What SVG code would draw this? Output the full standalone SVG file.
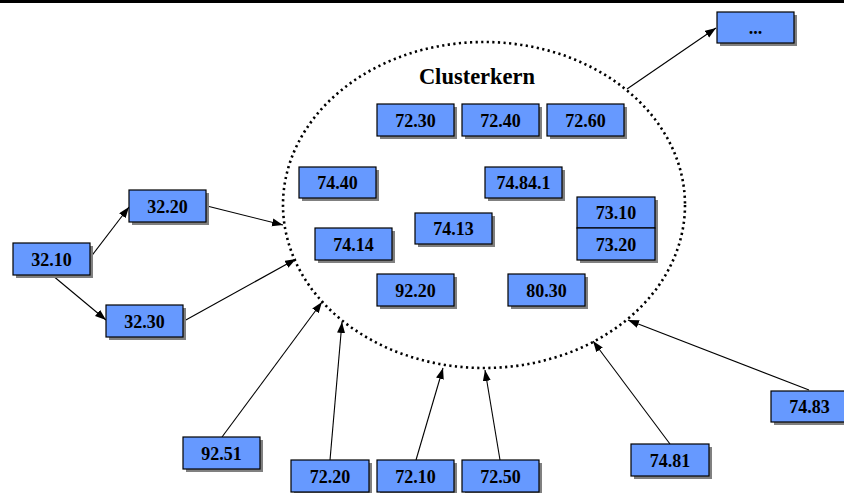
<svg xmlns="http://www.w3.org/2000/svg" width="844" height="493" viewBox="0 0 844 493">
<style>
.sh{fill:#808080}
.bx{fill:#6699ff;stroke:#000;stroke-width:1.2}
.t{font-family:"Liberation Serif","Times New Roman",serif;font-weight:bold;font-size:18px;fill:#000;text-anchor:middle}
.c{stroke:#000;stroke-width:1.1;fill:none;marker-end:url(#ah)}
</style>
<defs>
<marker id="ah" markerUnits="userSpaceOnUse" markerWidth="12" markerHeight="9" refX="11" refY="4" orient="auto">
<path d="M0,0 L11,4 L0,8 z" fill="#000"/>
</marker>
</defs>
<rect width="844" height="493" fill="#fff"/>
<rect x="0" y="0" width="844" height="3" fill="#000"/>
<ellipse id="cluster" cx="484" cy="205" rx="201" ry="163" fill="none" stroke="#000" stroke-width="2.6" stroke-dasharray="2.2 3.4"/>
<text x="477" y="84" class="t" style="font-size:22.5px">Clusterkern</text>

<g id="connectors">
<line class="c" x1="90" y1="258" x2="129" y2="207"/>
<line class="c" x1="52" y1="275" x2="106" y2="320"/>
<line class="c" x1="207" y1="206" x2="283" y2="225"/>
<line class="c" x1="184" y1="321" x2="296" y2="259"/>
<line class="c" x1="222" y1="437" x2="322" y2="302"/>
<line class="c" x1="330" y1="460" x2="342" y2="322"/>
<line class="c" x1="416" y1="460" x2="443" y2="368"/>
<line class="c" x1="500" y1="460" x2="485" y2="370"/>
<line class="c" x1="670" y1="444" x2="593" y2="341"/>
<line class="c" x1="809" y1="390" x2="628" y2="320"/>
<line class="c" x1="627" y1="89" x2="716" y2="28"/>
</g>

<g id="n-dots"><rect class="sh" x="720" y="15" width="77" height="31"/><rect class="bx" x="717" y="12" width="77" height="31"/><text class="t" x="755.5" y="34">...</text></g>
<g id="n3210"><rect class="sh" x="16" y="246" width="77" height="32"/><rect class="bx" x="13" y="243" width="77" height="32"/><text class="t" x="51.5" y="265.5">32.10</text></g>
<g id="n3220"><rect class="sh" x="132" y="193" width="77" height="32"/><rect class="bx" x="129" y="190" width="77" height="32"/><text class="t" x="167.5" y="212.5">32.20</text></g>
<g id="n3230"><rect class="sh" x="109" y="308" width="77" height="32"/><rect class="bx" x="106" y="305" width="77" height="32"/><text class="t" x="144.5" y="327.5">32.30</text></g>
<g id="n7230"><rect class="sh" x="380" y="107" width="77" height="32"/><rect class="bx" x="377" y="104" width="77" height="32"/><text class="t" x="415.5" y="126.5">72.30</text></g>
<g id="n7240"><rect class="sh" x="465" y="107" width="77" height="32"/><rect class="bx" x="462" y="104" width="77" height="32"/><text class="t" x="500.5" y="126.5">72.40</text></g>
<g id="n7260"><rect class="sh" x="550" y="107" width="77" height="32"/><rect class="bx" x="547" y="104" width="77" height="32"/><text class="t" x="585.5" y="126.5">72.60</text></g>
<g id="n7440"><rect class="sh" x="302" y="170" width="77" height="31"/><rect class="bx" x="299" y="167" width="77" height="31"/><text class="t" x="337.5" y="189">74.40</text></g>
<g id="n74841"><rect class="sh" x="488" y="170" width="77" height="31"/><rect class="bx" x="485" y="167" width="77" height="31"/><text class="t" x="523.5" y="189">74.84.1</text></g>
<g id="n7310"><rect class="sh" x="580" y="200" width="78" height="63"/><rect class="bx" x="577" y="197" width="78" height="31"/><text class="t" x="616" y="219">73.10</text></g>
<g id="n7320"><rect class="bx" x="577" y="228" width="78" height="32"/><text class="t" x="616" y="250.5">73.20</text></g>
<g id="n7413"><rect class="sh" x="418" y="216" width="77" height="31"/><rect class="bx" x="415" y="213" width="77" height="31"/><text class="t" x="453.5" y="235">74.13</text></g>
<g id="n7414"><rect class="sh" x="318" y="231" width="77" height="32"/><rect class="bx" x="315" y="228" width="77" height="32"/><text class="t" x="353.5" y="250.5">74.14</text></g>
<g id="n9220"><rect class="sh" x="380" y="277" width="77" height="32"/><rect class="bx" x="377" y="274" width="77" height="32"/><text class="t" x="415.5" y="296.5">92.20</text></g>
<g id="n8030"><rect class="sh" x="511" y="277" width="77" height="32"/><rect class="bx" x="508" y="274" width="77" height="32"/><text class="t" x="546.5" y="296.5">80.30</text></g>
<g id="n9251"><rect class="sh" x="186" y="440" width="77" height="32"/><rect class="bx" x="183" y="437" width="77" height="32"/><text class="t" x="221.5" y="459.5">92.51</text></g>
<g id="n7220"><rect class="sh" x="294" y="463" width="78" height="32"/><rect class="bx" x="291" y="460" width="78" height="32"/><text class="t" x="330" y="482.5">72.20</text></g>
<g id="n7210"><rect class="sh" x="380" y="463" width="77" height="32"/><rect class="bx" x="377" y="460" width="77" height="32"/><text class="t" x="415.5" y="482.5">72.10</text></g>
<g id="n7250"><rect class="sh" x="465" y="463" width="77" height="32"/><rect class="bx" x="462" y="460" width="77" height="32"/><text class="t" x="500.5" y="482.5">72.50</text></g>
<g id="n7481"><rect class="sh" x="634" y="447" width="78" height="32"/><rect class="bx" x="631" y="444" width="78" height="32"/><text class="t" x="670" y="466.5">74.81</text></g>
<g id="n7483"><rect class="sh" x="774" y="394" width="77" height="31"/><rect class="bx" x="771" y="391" width="77" height="31"/><text class="t" x="809.5" y="413">74.83</text></g>
</svg>
